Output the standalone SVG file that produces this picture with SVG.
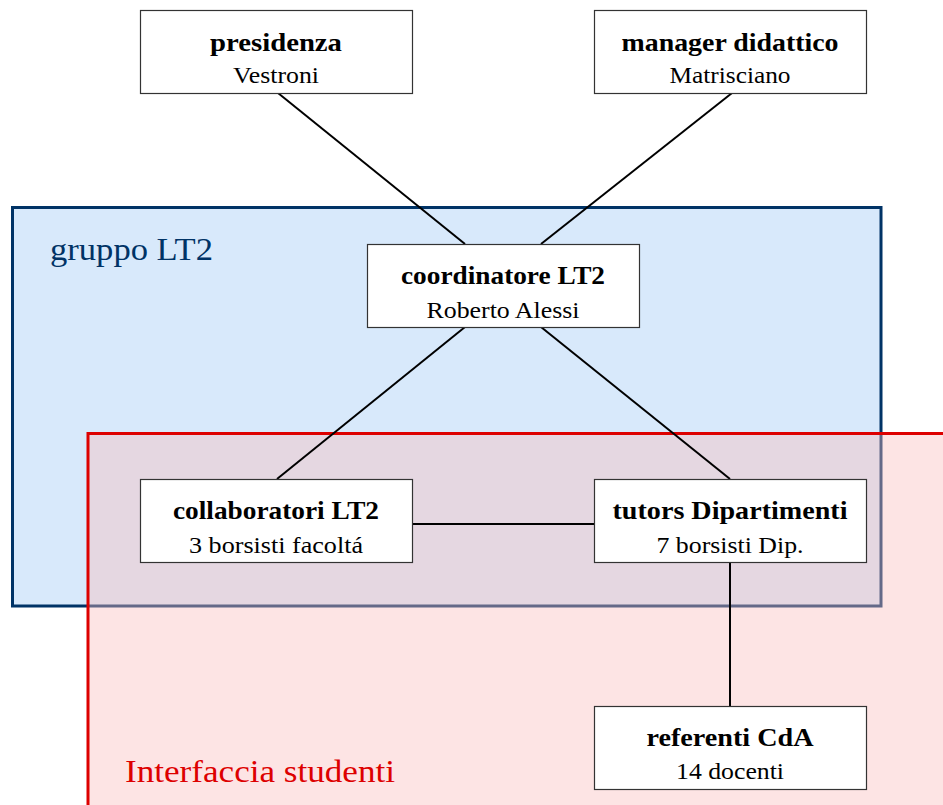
<svg xmlns="http://www.w3.org/2000/svg" width="943" height="805" viewBox="0 0 943 805">
<style>
.node rect{fill:#ffffff;stroke:#333333;stroke-width:1.2}
.t{font-family:"Liberation Serif","Times New Roman",serif;font-weight:bold;font-size:25px;fill:#000;text-anchor:middle}
.s{font-family:"Liberation Serif","Times New Roman",serif;font-size:23px;fill:#000;text-anchor:middle}
.lbl{font-family:"Liberation Serif","Times New Roman",serif;font-size:31px}
#connectors line{stroke:#000;stroke-width:2}
</style>
<rect width="943" height="805" fill="#ffffff"/>
<g id="gruppo">
<rect x="12.5" y="207.5" width="868.5" height="398.5" fill="#d8e9fb" stroke="#003366" stroke-width="3"/>
<text class="lbl" x="50" y="260" fill="#003366" textLength="163" lengthAdjust="spacingAndGlyphs">gruppo LT2</text>
</g>
<g id="interfaccia">
<rect x="88" y="433.5" width="900" height="420" fill="#fabbbb" fill-opacity="0.4" stroke="#dd0000" stroke-width="3"/>
<text class="lbl" x="125" y="782" fill="#dd0000" textLength="270" lengthAdjust="spacingAndGlyphs">Interfaccia studenti</text>
</g>
<g id="connectors">
<line x1="278" y1="93" x2="465" y2="244"/>
<line x1="732" y1="93" x2="541" y2="244"/>
<line x1="465" y1="327" x2="277" y2="479"/>
<line x1="541" y1="327" x2="730" y2="479"/>
<line x1="412" y1="524" x2="594" y2="524"/>
<line x1="730" y1="562" x2="730" y2="706"/>
</g>
<g id="presidenza" class="node">
<rect x="140.5" y="10.5" width="272" height="83"/>
<text class="t" x="276" y="51" textLength="132" lengthAdjust="spacingAndGlyphs">presidenza</text>
<text class="s" x="276" y="83" textLength="86" lengthAdjust="spacingAndGlyphs">Vestroni</text>
</g>
<g id="manager" class="node">
<rect x="594.5" y="10.5" width="272" height="83"/>
<text class="t" x="730" y="51" textLength="217" lengthAdjust="spacingAndGlyphs">manager didattico</text>
<text class="s" x="730" y="83" textLength="121" lengthAdjust="spacingAndGlyphs">Matrisciano</text>
</g>
<g id="coordinatore" class="node">
<rect x="367.5" y="244.5" width="272" height="83"/>
<text class="t" x="503" y="284" textLength="204" lengthAdjust="spacingAndGlyphs">coordinatore LT2</text>
<text class="s" x="503" y="318" textLength="153" lengthAdjust="spacingAndGlyphs">Roberto Alessi</text>
</g>
<g id="collaboratori" class="node">
<rect x="140.5" y="479.5" width="272" height="83"/>
<text class="t" x="276" y="519" textLength="206" lengthAdjust="spacingAndGlyphs">collaboratori LT2</text>
<text class="s" x="276" y="553" textLength="174" lengthAdjust="spacingAndGlyphs">3 borsisti facoltá</text>
</g>
<g id="tutors" class="node">
<rect x="594.5" y="479.5" width="272" height="83"/>
<text class="t" x="730" y="519" textLength="235" lengthAdjust="spacingAndGlyphs">tutors Dipartimenti</text>
<text class="s" x="730" y="553" textLength="147" lengthAdjust="spacingAndGlyphs">7 borsisti Dip.</text>
</g>
<g id="referenti" class="node">
<rect x="594.5" y="706.5" width="272" height="83"/>
<text class="t" x="730" y="746" textLength="167" lengthAdjust="spacingAndGlyphs">referenti CdA</text>
<text class="s" x="730" y="779" textLength="108" lengthAdjust="spacingAndGlyphs">14 docenti</text>
</g>
</svg>
